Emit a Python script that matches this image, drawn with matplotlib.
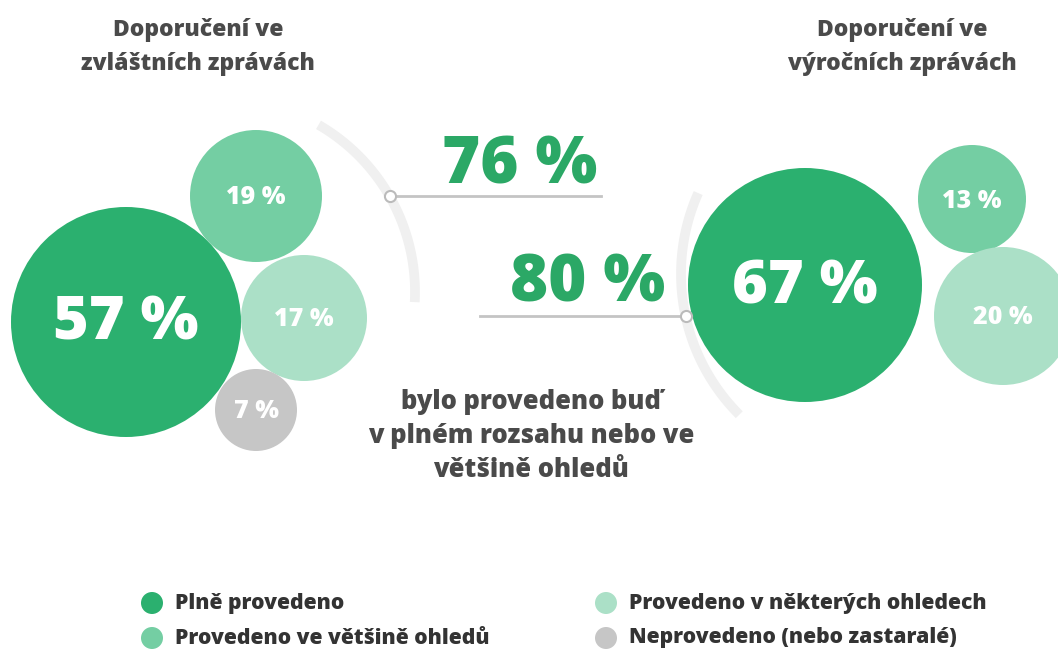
# -*- coding: utf-8 -*-
import numpy as np
import matplotlib.pyplot as plt
from matplotlib.patches import Circle

plt.rcParams['font.family'] = ['Open Sans', 'DejaVu Sans']

# data
special_values = [57, 19, 17, 7]
special_cats = [0, 1, 2, 3]
annual_values = [67, 13, 20]
annual_cats = [0, 1, 2]
share_special = 76
share_annual = 80
categories = [u'Plně provedeno', u'Provedeno ve většině ohledů',
              u'Provedeno v některých ohledech', u'Neprovedeno (nebo zastaralé)']
title_special = u'Doporučení ve\nzvláštních zprávách'
title_annual = u'Doporučení ve\nvýročních zprávách'
middle_text = u'bylo provedeno buď\nv plném rozsahu nebo ve\nvětšině ohledů'

# layout (pixels)
colors = ['#2BB06F', '#74CEA3', '#ABE0C7', '#C6C6C6']
special_pos = [(126, 322, 115), (256, 196, 66), (304, 318, 63), (256, 410, 41)]
annual_pos = [(805, 285, 117), (972, 199, 54), (1003, 316, 69)]
TXT = '#4A4A4A'
GREEN = '#2BA866'
W = 'heavy'

fig = plt.figure(figsize=(10.58, 6.52), dpi=100)
ax = fig.add_axes([0, 0, 1, 1])
ax.set_xlim(0, 1058)
ax.set_ylim(652, 0)
ax.set_aspect('equal')
ax.axis('off')


def bubbles(values, cats, pos):
  for v, c, (x, y, r) in zip(values, cats, pos):
    ax.add_patch(Circle((x, y), r, color=colors[c], lw=0, zorder=2))
    fs = 44 if r > 100 else 18
    ax.text(x, y + 2, '%d %%' % v, color='white', fontsize=fs, fontweight=W,
            ha='center', va='center', zorder=3)


bubbles(special_values, special_cats, special_pos)
bubbles(annual_values, annual_cats, annual_pos)


def arc(cx, cy, r, a0, a1):
  t = np.radians(np.linspace(a0, a1, 100))
  ax.plot(cx + r * np.cos(t), cy - r * np.sin(t), color='#F0F0F0', lw=7,
          solid_capstyle='butt', zorder=1)


arc(222, 292, 193, -3, 60)
arc(880, 274, 199, 156, 225)

# pointer lines
ax.plot([390, 601], [196, 196], color='#C4C4C4', lw=2, zorder=1)
ax.plot([480, 686], [316, 316], color='#C4C4C4', lw=2, zorder=1)
ax.plot([390], [196], 'o', ms=8, mfc='white', mec='#BBBBBB', mew=1.5, zorder=4)
ax.plot([686], [316], 'o', ms=8, mfc='white', mec='#BBBBBB', mew=1.5, zorder=4)

ax.text(520, 166, '%d %%' % share_special, color=GREEN, fontsize=47,
        fontweight=W, ha='center', va='center')
ax.text(588, 285, '%d %%' % share_annual, color=GREEN, fontsize=47,
        fontweight=W, ha='center', va='center')

ax.text(198, 47, title_special, color=TXT, fontsize=16.5, fontweight=W,
        ha='center', va='center', linespacing=1.5)
ax.text(902, 47, title_annual, color=TXT, fontsize=16.5, fontweight=W,
        ha='center', va='center', linespacing=1.5)
ax.text(531, 436, middle_text, color=TXT, fontsize=18.4, fontweight=W,
        ha='center', va='center', linespacing=1.4)

# legend
leg_pos = [(152, 603), (152, 638), (606, 603), (606, 638)]
for i, (lab, (x, y)) in enumerate(zip(categories, leg_pos)):
  ax.add_patch(Circle((x, y), 11, color=colors[i], lw=0))
  ax.text(x + 23, y, lab, color='#333333', fontsize=15.2, fontweight=W,
          ha='left', va='center')

fig.savefig('out.png', dpi=100)
